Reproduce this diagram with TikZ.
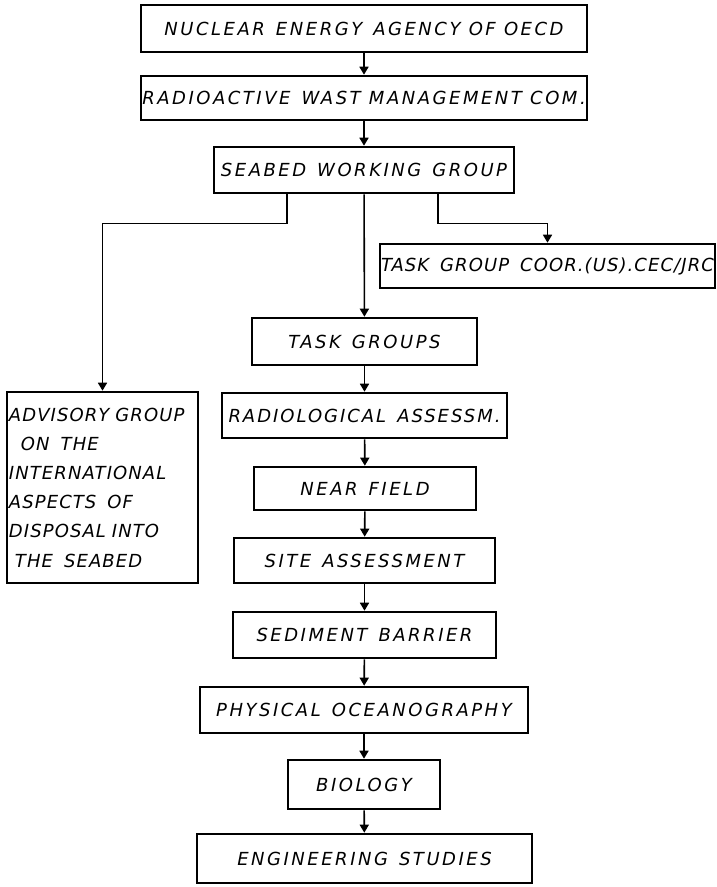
\documentclass[tikz,border=0pt]{standalone}
\usepackage{fontspec}
\usetikzlibrary{arrows.meta,calc}
\setmainfont{DejaVu Sans}
\newfontfamily\lett[LetterSpace=14]{DejaVu Sans}
\newcommand\wg{\hspace{11pt}}
\begin{document}
\begin{tikzpicture}[x=1pt,y=-1pt,
  box/.style={draw, line width=2.6pt, inner sep=0pt, anchor=center,
    font=\lett\itshape\fontsize{18}{21}\selectfont},
  link/.style={line width=1.6pt, -{Triangle[width=9pt,length=8pt]}}]
\fill[white] (0,0) rectangle (717,887);
\useasboundingbox (0,0) rectangle (717,887);

% main chain
\node[box, minimum width=446, minimum height=47] (nea) at (364,28.5)
  {NUCLEAR\wg ENERGY\wg AGENCY OF OECD\hspace{14pt}};
\node[box, minimum width=446, minimum height=44] (rwm) at (364,98)
  {RADIOACTIVE\wg WAST MANAGEMENT COM.\hspace{-10pt}};
\node[box, minimum width=300, minimum height=46] (swg) at (364,170)
  {SEABED\wg WORKING\wg GROUP};
\node[box, minimum width=335, minimum height=44,
  font=\lett\itshape\fontsize{18}{21}\selectfont\addfontfeature{LetterSpace=6}] (coor) at (547.5,266)
  {TASK\wg GROUP\wg COOR.(US).CEC/JRC};
\node[box, minimum width=225, minimum height=47] (tg) at (364.5,341.5)
  {TASK\wg GROUPS\hspace{12pt}};
\node[box, minimum width=191, minimum height=191, text width=187pt, align=left,
  font=\lett\itshape\fontsize{18}{29.2}\selectfont\addfontfeature{LetterSpace=6}] (adv) at (102.5,487.5)
  {ADVISORY GROUP\\ \hspace*{12pt}ON\wg THE\\ INTERNATIONAL\\ ASPECTS\wg OF\\
   DISPOSAL INTO\\ \hspace*{6pt}THE\wg SEABED};
\node[box, minimum width=285, minimum height=45,
  font=\lett\itshape\fontsize{18}{21}\selectfont\addfontfeature{LetterSpace=11}] (rad) at (364.5,415.5)
  {RADIOLOGICAL\wg ASSESSM.};
\node[box, minimum width=222, minimum height=43] (nf) at (365,488.5)
  {NEAR\wg FIELD};
\node[box, minimum width=261, minimum height=45] (site) at (364.5,560.5)
  {SITE\wg ASSESSMENT\hspace{12pt}};
\node[box, minimum width=263, minimum height=46] (sed) at (364.5,635)
  {SEDIMENT\wg BARRIER\hspace{10pt}};
\node[box, minimum width=328, minimum height=46] (phys) at (364,710)
  {PHYSICAL\wg OCEANOGRAPHY};
\node[box, minimum width=152, minimum height=49] (bio) at (364,784.5)
  {BIOLOGY};
\node[box, minimum width=335, minimum height=49] (eng) at (364.5,858.5)
  {ENGINEERING\wg STUDIES\hspace{30pt}};

% connectors
\draw[link] (nea) -- (rwm);
\draw[link] (rwm) -- (swg);
\draw[link] (swg) -- (tg);
\draw[link] ($(swg.south)+(-77,0)$) -- ++(0,29) -| (adv.north);
\draw[link] ($(swg.south)+(74,0)$) -- ++(0,29) -| (coor.north);
\draw[link] (tg) -- (rad);
\draw[link] (rad) -- (nf);
\draw[link] (nf) -- (site);
\draw[link] (site) -- (sed);
\draw[link] (sed) -- (phys);
\draw[link] (phys) -- (bio);
\draw[link] (bio) -- (eng);
\end{tikzpicture}
\end{document}
